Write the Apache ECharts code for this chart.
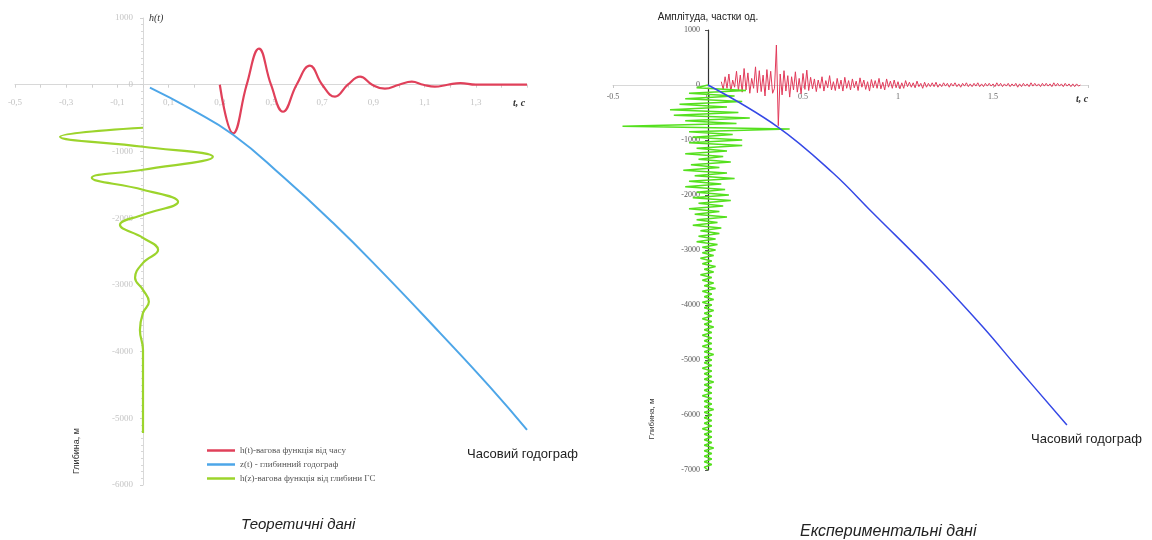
<!DOCTYPE html>
<html><head><meta charset="utf-8">
<script src="https://cdn.jsdelivr.net/npm/echarts@6/dist/echarts.min.js"></script>
<style>html,body{margin:0;padding:0;background:#fff}#c{width:1152px;height:540px}</style>
</head><body><div id="c"></div>
<script>
// ---------- Theoretical panel (left) ----------
const theoRedT = [0.30,0.352,0.405,0.453,0.50,0.547,0.60,0.652,0.70,0.75,0.80,0.848,0.895,0.945,1.0,1.05,1.095,1.14,1.19,1.24,1.30,1.50];
const theoRedH = [0,-730,0,540,0,-405,0,285,0,-180,0,120,0,-60,0,45,0,-30,0,25,0,0];
const theoHodT = [0.027,0.184,0.352,0.547,0.742,0.926,1.16,1.355,1.5];
const theoHodZ = [-45,-360,-750,-1380,-2070,-2775,-3720,-4530,-5175];
const theoHzAmp = [0,-0.324,0,0.273,0,-0.2,0,0.137,0,-0.09,0,0.059,0,-0.031,0,0.023,0,-0.012,0,0];
const theoHzZ = [-645,-780,-930,-1080,-1275,-1395,-1575,-1755,-1950,-2100,-2295,-2475,-2670,-2895,-3075,-3255,-3420,-3675,-3975,-5220];

// ---------- Experimental panel (right) ----------
const expRedStart = 0.07, expRedStep = 0.01;
const expRedAmp = [
 60,-80,150,-60,200,-120,90,-40,250,-100,
 180,-130,300,-90,220,-150,120,-60,330,-140,
 260,-120,180,-200,280,-90,250,-150,-60,
 727,-740,
 200,-180,260,-110,170,-220,150,-90,240,-130,
 120,-160,210,-80,270,-100,140,-70,110,-120,
 90,-60,150,-110,80,-50,170,-90,60,-100,
 120,-70,90,-110,140,-60,80,-90,110,-50,
 70,-100,130,-40,90,-80,60,-110,100,-50,
 80,-60,120,-70,50,-90,110,-40,70,-60,
 90,-50,60,-70,40,-60,80,-30,50,-40,
 40,-50,70,-30,30,-60,50,-40,30,-30,
 40,-30,50,-40,20,-30,40,-20,30,-40,
 30,-20,40,-30,20,-40,30,-20,40,-30,
 20,-30,30,-20,40,-30,20,-30,30,-20,
 30,-20,20,-30,40,-20,30,-30,20,-20,
 30,-30,20,-20,30,-40,20,-30,30,-20,
 20,-30,40,-20,30,-20,20,-30,30,-20,
 30,-20,20,-30,40,-20,30,-20,20,-30,
 30,-20,20,-30,20,-30,20,-20,0];
const expGreenDepthStep = 50;
const expGreenAmp = [0,
 -0.06,0.20,-0.10,0.14,-0.12,0.18,-0.15,0.10,-0.20,0.16,-0.18,0.22,-0.12,0.15,-0.45,0.43,-0.10,0.13,-0.08,0.18,
 -0.10,0.18,-0.06,0.10,-0.12,0.08,-0.05,0.12,-0.09,0.06,-0.13,0.10,-0.07,0.14,-0.10,0.07,-0.12,0.09,-0.06,0.11,
 -0.08,0.12,-0.05,0.08,-0.10,0.06,-0.07,0.10,-0.06,0.05,-0.08,0.07,-0.04,0.06,-0.05,0.04,-0.06,0.05,-0.03,0.04,
 -0.03,0.03,-0.04,0.02,-0.03,0.04,-0.02,0.03,-0.04,0.02,-0.03,0.03,-0.02,0.04,-0.03,0.02,-0.02,0.03,-0.03,0.02,
 -0.02,0.03,-0.02,0.02,-0.03,0.02,-0.02,0.03,-0.02,0.02,-0.03,0.02,-0.02,0.02,-0.03,0.02,-0.02,0.03,-0.02,0.02,
 -0.02,0.02,-0.03,0.02,-0.02,0.02,-0.02,0.03,-0.02,0.02,-0.02,0.02,-0.03,0.02,-0.02,0.02,-0.02,0.03,-0.02,0.02,
 -0.02,0.02,-0.02,0.02,-0.03,0.02,-0.02,0.02,-0.02,0.02,-0.02,0.03,-0.02,0.02,-0.02,0.02,-0.02,0.02,-0.02,0];
const expHodT = [0,0.368,0.658,0.868,1.184,1.447,1.626,1.889];
const expHodZ = [0,-764,-1600,-2327,-3418,-4400,-5127,-6182];

const legendNames = ['h(t)-вагова функція від часу','z(t) - глибинний годограф','h(z)-вагова функція від глибини ГС'];

// axis ranges
const theoX = [-0.5, 1.5], theoY = [-6000, 1000];
const expX = [-0.5, 2], expY = [-7000, 1000];

const zip = (a,b)=>a.map((v,i)=>[v,b[i]]);
const redExp = expRedAmp.map((v,i)=>[+(expRedStart+i*expRedStep).toFixed(3), v]);
const greenExp = expGreenAmp.map((v,i)=>[v, -i*expGreenDepthStep]);

const G0 = {left:15, top:18, width:512, height:467};
const G1 = {left:613, top:30, width:475, height:440};
// shift axes so they cross at zero (offset of zero inside the grid)
const zeroOff = (ext, size) => size * (0 - ext[0]) / (ext[1] - ext[0]);

const chart = echarts.init(document.getElementById('c'), null, {renderer:'canvas'});
const lightAxis = {onZero:false, lineStyle:{color:'#d8d8d8', width:1}};
const yFmt = v => String(v);
chart.setOption({
  animation:false,
  backgroundColor:'#fff',
  textStyle:{fontFamily:'Liberation Sans'},
  grid:[
    Object.assign({outerBoundsMode:'none', containLabel:false}, G0),
    Object.assign({outerBoundsMode:'none', containLabel:false}, G1)
  ],
  xAxis:[
    {type:'value', gridIndex:0, min:theoX[0], max:theoX[1], interval:0.1, position:'bottom',
     offset:-zeroOff(theoY, G0.height),
     axisLine:lightAxis,
     axisTick:{show:true, length:3, lineStyle:{color:'#d0d0d0'}},
     splitLine:{show:false},
     axisLabel:{fontSize:9, color:'#c4c4c4', fontFamily:'Liberation Serif', margin:13,
       formatter:v=>{const k=Math.round(v*10); return (Math.abs(k)%2===1 && k!==15)? v.toFixed(1).replace('.',','):'';}},
     name:'t, c', nameLocation:'end', nameGap:-14,
     nameTextStyle:{fontSize:10, fontStyle:'italic', fontWeight:'bold', color:'#333', fontFamily:'Liberation Serif', verticalAlign:'top', padding:[14,0,0,0]}},
    {type:'value', gridIndex:1, min:expX[0], max:expX[1], interval:0.5, position:'bottom',
     offset:-zeroOff(expY, G1.height),
     axisLine:lightAxis,
     axisTick:{show:true, length:3, lineStyle:{color:'#c8c8c8'}},
     splitLine:{show:false},
     axisLabel:{fontSize:8, color:'#666', fontFamily:'Liberation Serif', margin:8,
       formatter:v=>v===2?'':String(v)},
     name:'t, c', nameLocation:'end', nameGap:-12,
     nameTextStyle:{fontSize:10, fontStyle:'italic', fontWeight:'bold', color:'#333', fontFamily:'Liberation Serif', verticalAlign:'top', padding:[9,0,0,0]}}
  ],
  yAxis:[
    {type:'value', gridIndex:0, min:theoY[0], max:theoY[1], interval:1000, position:'left',
     offset:-zeroOff(theoX, G0.width),
     axisLine:lightAxis,
     axisTick:{show:true, length:3, lineStyle:{color:'#d0d0d0'}},
     minorTick:{show:true, splitNumber:10, length:2, lineStyle:{color:'#d8d8d8'}},
     splitLine:{show:false},
     axisLabel:{fontSize:9, color:'#c4c4c4', fontFamily:'Liberation Serif', margin:10, formatter:yFmt},
     name:'h(t)', nameLocation:'end', nameGap:0,
     nameTextStyle:{fontSize:10, fontStyle:'italic', color:'#333', fontFamily:'Liberation Serif', align:'left', verticalAlign:'middle', padding:[0,0,0,6]}},
    {type:'value', gridIndex:1, min:expY[0], max:expY[1], interval:1000, position:'left',
     offset:-zeroOff(expX, G1.width),
     axisLine:{onZero:false, lineStyle:{color:'#333', width:1.2}},
     axisTick:{show:true, length:3, lineStyle:{color:'#555'}},
     splitLine:{show:false},
     axisLabel:{fontSize:8, color:'#555', fontFamily:'Liberation Serif', margin:8, formatter:yFmt},
     name:'Амплітуда, частки од.', nameLocation:'end', nameGap:8,
     nameTextStyle:{fontSize:10, color:'#222', align:'center'}}
  ],
  legend:{data:legendNames, left:202, top:441, orient:'vertical', itemGap:5, itemWidth:28, itemHeight:2.5, icon:'rect',
    textStyle:{fontSize:9, color:'#555', fontFamily:'Liberation Serif'}},
  title:[
    {text:'Часовий годограф', left:462, top:443, textStyle:{fontSize:13, fontWeight:'normal', color:'#222'}},
    {text:'Часовий годограф', left:1026, top:428, textStyle:{fontSize:13, fontWeight:'normal', color:'#222'}},
    {text:'Теоретичні дані', left:236, top:512, textStyle:{fontSize:15, fontWeight:'normal', fontStyle:'italic', color:'#222'}},
    {text:'Експериментальні дані', left:795, top:519, textStyle:{fontSize:16, fontWeight:'normal', fontStyle:'italic', color:'#222'}}
  ],
  graphic:[
    {type:'text', x:77, y:451, rotation:Math.PI/2, style:{text:'Глибина, м', fontSize:9, fill:'#333', align:'center', verticalAlign:'middle'}},
    {type:'text', x:652, y:419, rotation:Math.PI/2, style:{text:'Глибина, м', fontSize:8, fill:'#333', align:'center', verticalAlign:'middle'}}
  ],
  series:[
    {name:legendNames[0], type:'line', xAxisIndex:0, yAxisIndex:0, data:zip(theoRedT,theoRedH), smooth:0.45, symbol:'none',
     lineStyle:{color:'#E0405A', width:2.2}, itemStyle:{color:'#E0405A'}},
    {name:legendNames[1], type:'line', xAxisIndex:0, yAxisIndex:0, data:zip(theoHodT,theoHodZ), smooth:0.5, symbol:'none',
     lineStyle:{color:'#4DA6E8', width:2}, itemStyle:{color:'#4DA6E8'}},
    {name:legendNames[2], type:'line', xAxisIndex:0, yAxisIndex:0, data:zip(theoHzAmp,theoHzZ), smooth:0.45, symbol:'none',
     lineStyle:{color:'#9CD42C', width:2.2}, itemStyle:{color:'#9CD42C'}},
    {name:'h(t) експ.', type:'line', xAxisIndex:1, yAxisIndex:1, data:redExp, symbol:'none',
     lineStyle:{color:'#E23A5A', width:1}, z:3},
    {name:'h(z) експ.', type:'line', xAxisIndex:1, yAxisIndex:1, data:greenExp, symbol:'none',
     lineStyle:{color:'#55E01E', width:1.4}, z:4},
    {name:'z(t) експ.', type:'line', xAxisIndex:1, yAxisIndex:1, data:zip(expHodT,expHodZ), smooth:0.4, symbol:'none',
     lineStyle:{color:'#3548E6', width:1.5}, z:5}
  ]
});
</script></body></html>
